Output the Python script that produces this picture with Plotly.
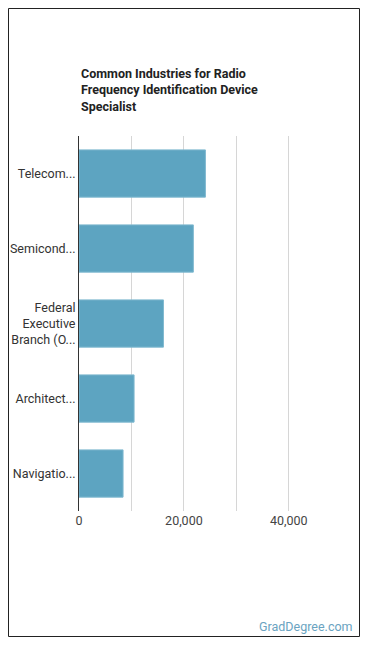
import plotly.graph_objects as go

categories = ["Telecom...", "Semicond...", "Federal<br>Executive<br>Branch (O...", "Architect...", "Navigatio..."]
values = [24100, 21800, 16100, 10500, 8400]
tick_vals = [0, 20000, 40000]
tick_text = ["0", "20,000", "40,000"]

W, H = 370, 648
L, R, T, B = 79, 34, 136, 137
pw, ph = W - L - R, H - T - B

def px_x(x):
    return (x - L) / pw

def px_y(y):
    return (H - B - y) / ph

fig = go.Figure(go.Bar(
    y=categories, x=values, orientation="h",
    marker=dict(color="#5da4c1", line=dict(color="#7fb8cf", width=1)),
    hoverinfo="x+y",
))

fig.update_layout(
    width=W, height=H,
    margin=dict(l=L, r=R, t=T, b=B, autoexpand=False),
    paper_bgcolor="white", plot_bgcolor="white",
    font=dict(family="Roboto", size=12, color="#333333"),
    bargap=0.37,
    showlegend=False,
    xaxis=dict(range=[0, 49000], tickvals=tick_vals, ticktext=tick_text,
               showgrid=True, gridcolor="#d6d6d6", gridwidth=1, automargin=False,
               zeroline=False, showline=False, ticks="",
               tickfont=dict(size=12.5, color="#444444"), fixedrange=True),
    yaxis=dict(autorange="reversed", showgrid=False, zeroline=False, automargin=False,
               showline=True, linecolor="#333333", linewidth=1, ticks="",
               tickfont=dict(size=12.5, color="#333333"), fixedrange=True),
    shapes=[
        dict(type="rect", xref="paper", yref="paper",
             x0=px_x(8.5), x1=px_x(359.5), y0=px_y(636.5), y1=px_y(8.5),
             line=dict(color="#222222", width=1), fillcolor="rgba(0,0,0,0)", layer="above"),
    ],
    annotations=[
        dict(text="<b>Common Industries for Radio<br>Frequency Identification Device<br>Specialist</b>",
             xref="paper", yref="paper", x=px_x(79), y=px_y(64), xanchor="left", yanchor="top",
             align="left", showarrow=False, font=dict(size=12.5, color="#222222", family="Roboto")),
        dict(text="GradDegree.com", xref="paper", yref="paper", x=px_x(355), y=px_y(626),
             xanchor="right", yanchor="middle", showarrow=False,
             font=dict(size=12.5, color="#6aa3c1", family="Roboto")),
    ],
)

fig.update_xaxes(minor=dict(dtick=10000, tick0=0, showgrid=True, gridcolor="#d6d6d6", gridwidth=1, ticks=""))

fig.write_html("out.html")
